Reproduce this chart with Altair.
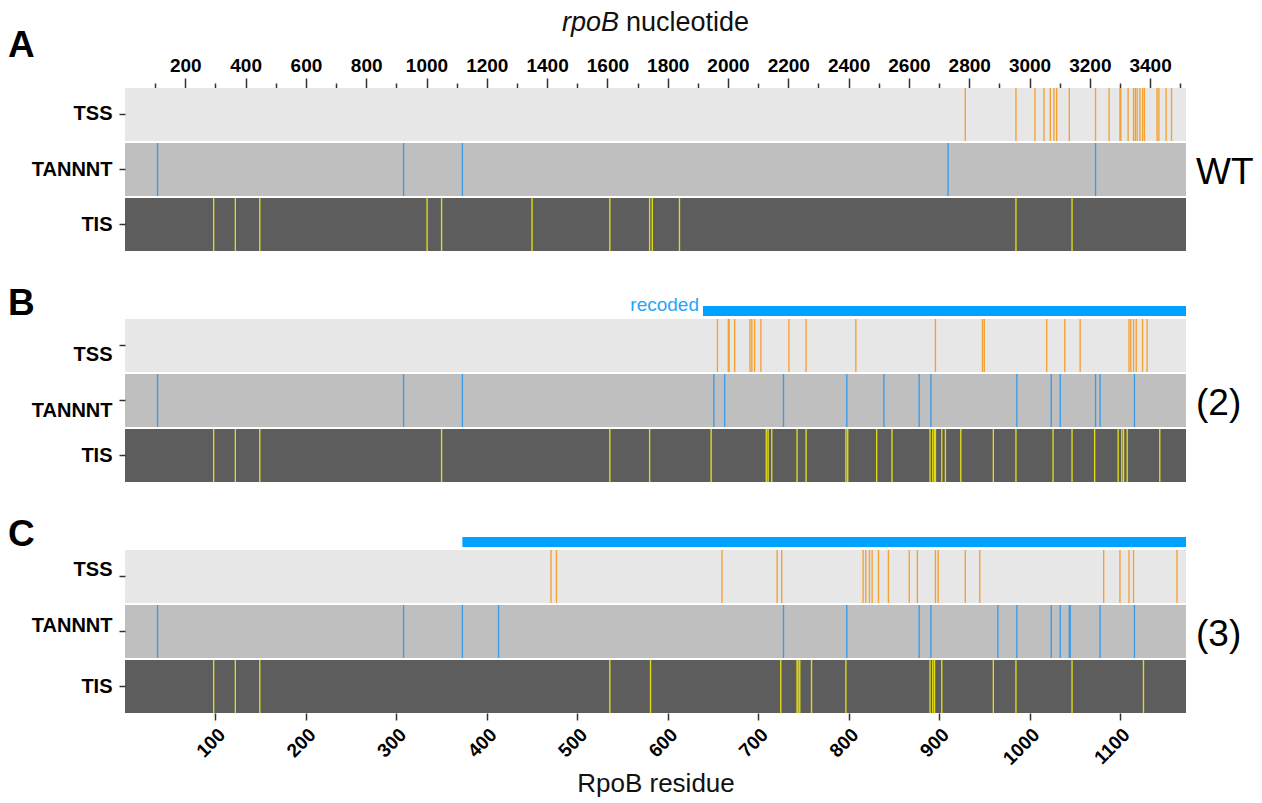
import altair as alt
import pandas as pd

# ---------------- data ----------------
TRACKS = ["TSS", "TANNNT", "TIS"]
GENE_LEN = 1173  # RpoB residues (3519 nt)

NT_TICKS = list(range(100, 3600, 100))
RES_TICKS = [100, 200, 300, 400, 500, 600, 700, 800, 900, 1000, 1100]

A_TSS = [929, 985, 1006, 1016, 1023, 1027, 1030, 1044, 1073, 1088, 1100, 1101,
         1109, 1115, 1117, 1119, 1122, 1125, 1127, 1141, 1143, 1151, 1157]
A_TANNNT = [36, 308, 373, 910, 1073]
A_TIS = [98, 122, 149, 334, 350, 450, 536, 580, 583, 613, 985, 1047]

B_TSS = [655, 667, 668, 674, 691, 693, 696, 703, 734, 753, 808, 896, 948, 950,
         1019, 1039, 1056, 1110, 1112, 1115, 1118, 1125, 1130]
B_TANNNT = [36, 308, 373, 651, 663, 728, 798, 839, 878, 891, 986, 1024, 1034,
            1073, 1078, 1116]
B_TIS = [98, 122, 149, 350, 536, 580, 648, 709, 711, 715, 743, 753, 797, 799,
         831, 848, 890, 893, 895, 896, 903, 907, 924, 960, 985, 1026, 1047,
         1072, 1098, 1102, 1104, 1108, 1144]

C_TSS = [471, 477, 660, 721, 726, 816, 819, 823, 826, 833, 844, 867, 876, 896,
         899, 929, 945, 1082, 1100, 1110, 1115, 1163]
C_TANNNT = [36, 308, 373, 413, 728, 798, 878, 891, 965, 986, 1024, 1034, 1044,
            1045, 1078, 1116]
C_TIS = [98, 122, 149, 536, 581, 725, 743, 744, 746, 759, 797, 890, 893, 895,
         903, 960, 985, 1047, 1126]

B_RECODED_START = 639
C_RECODED_START = 373

# ---------------- style ----------------
FONT = "Liberation Sans"
W, H = 1061, 163
BG_COLORS = ["#e7e7e7", "#bfbfbf", "#5d5d5d"]
EV_COLORS = ["#f5a033", "#3b9be8", "#e2dc14"]
BAR_COLOR = "#00a2ff"

xscale = alt.Scale(domain=[0, GENE_LEN], nice=False, zero=False)
yscale = alt.Scale(domain=TRACKS, paddingInner=0.037, paddingOuter=0)


def make_yaxis(off_top):
    return alt.Axis(
        title=None, domain=False, labelFont=FONT, labelFontSize=20,
        labelFontWeight="bold", labelColor="black", tickSize=6,
        tickColor="#333", tickWidth=1.5, labelPadding=7,
        labelOffset={"condition": {"test": "datum.value === 'TIS'", "value": 0},
                     "value": off_top})


def make_xaxis(kind):
    if kind == "top":
        return alt.Axis(
            orient="top", values=[n / 3 for n in NT_TICKS], title=None,
            labelExpr="round(datum.value*3) % 200 === 0 ? format(round(datum.value*3), 'd') : ''",
            tickSize={"condition": {"test": "round(datum.value*3) % 200 === 0", "value": 10}, "value": 5},
            labelFont=FONT, labelFontSize=19, labelFontWeight="bold",
            labelColor="black", tickColor="#333", tickWidth=1.5, domain=False,
            labelPadding=3, labelOverlap=False, labelFlush=False, grid=False)
    if kind == "bottom":
        return alt.Axis(
            orient="bottom", values=RES_TICKS, title="RpoB residue", format="d",
            labelAngle=-45, labelAlign="right", labelBaseline="top",
            labelFont=FONT, labelFontSize=19, labelFontWeight="bold",
            labelColor="black", tickSize=7, tickColor="#333", tickWidth=1.5,
            domain=False, labelPadding=5, labelOverlap=False, labelFlush=False,
            titleFont=FONT, titleFontSize=26, titleFontWeight="normal",
            titleColor="#111", titlePadding=2, grid=False)
    return None


def panel(tss, tann, tis, letter, letter_y, right_label, axis_kind, label_off,
          recoded_start=None, recoded_text=None):
    xaxis = make_xaxis(axis_kind)
    ev = pd.DataFrame([{"track": t, "pos": p}
                       for t, lst in zip(TRACKS, [tss, tann, tis]) for p in lst])
    bg = pd.DataFrame({"track": TRACKS, "start": [0] * 3, "end": [GENE_LEN] * 3})

    y_enc = alt.Y("track:N", scale=yscale, axis=make_yaxis(label_off))

    back = alt.Chart(bg).mark_rect().encode(
        x=alt.X("start:Q", scale=xscale, axis=xaxis),
        x2="end:Q",
        y=y_enc,
        color=alt.Color("track:N", scale=alt.Scale(domain=TRACKS, range=BG_COLORS), legend=None),
    )
    events = alt.Chart(ev).transform_calculate(
        p0="datum.pos - 0.75", p1="datum.pos + 0.75"
    ).mark_rect().encode(
        x=alt.X("p0:Q", scale=xscale, axis=xaxis),
        x2="p1:Q",
        y=y_enc,
        color=alt.Color("track:N", scale=alt.Scale(domain=TRACKS, range=EV_COLORS), legend=None),
    )
    layers = [back, events]

    if recoded_start is not None:
        rec = pd.DataFrame({"start": [recoded_start], "end": [GENE_LEN], "t": [recoded_text or ""]})
        layers.append(alt.Chart(rec).mark_rect(color=BAR_COLOR).encode(
            x=alt.X("start:Q", scale=xscale, axis=xaxis), x2="end:Q",
            y=alt.value(-13), y2=alt.value(-3)))
        if recoded_text:
            layers.append(alt.Chart(rec).mark_text(
                align="right", baseline="middle", dx=-4, font=FONT, fontSize=19,
                color="#2aa5f5").encode(
                x=alt.X("start:Q", scale=xscale, axis=xaxis),
                y=alt.value(-14), text="t:N"))

    lt = pd.DataFrame({"t": [letter]})
    layers.append(alt.Chart(lt).mark_text(
        align="left", baseline="middle", font=FONT, fontSize=37,
        fontWeight="bold", color="black").encode(
        x=alt.value(-117), y=alt.value(letter_y), text="t:N"))

    rl = pd.DataFrame({"t": [right_label]})
    layers.append(alt.Chart(rl).mark_text(
        align="left", baseline="middle", font=FONT, fontSize=37,
        color="black").encode(
        x=alt.value(W + 10), y=alt.value(H / 2 + 3), text="t:N"))

    if axis_kind == "top":
        t1 = pd.DataFrame({"t": ["rpoB"]})
        t2 = pd.DataFrame({"t": ["nucleotide"]})
        layers.append(alt.Chart(t1).mark_text(
            align="right", baseline="middle", font=FONT, fontSize=27,
            fontStyle="italic", color="#111").encode(
            x=alt.value(494), y=alt.value(-65), text="t:N"))
        layers.append(alt.Chart(t2).mark_text(
            align="left", baseline="middle", font=FONT, fontSize=27,
            color="#111").encode(
            x=alt.value(501), y=alt.value(-65), text="t:N"))

    return alt.layer(*layers).resolve_scale(color="independent").properties(width=W, height=H)


pa = panel(A_TSS, A_TANNNT, A_TIS, "A", -42, "WT", "top", 0)
pb = panel(B_TSS, B_TANNNT, B_TIS, "B", -15, "(2)", "none", 10,
           recoded_start=B_RECODED_START, recoded_text="recoded")
pc = panel(C_TSS, C_TANNNT, C_TIS, "C", -15, "(3)", "bottom", -6,
           recoded_start=C_RECODED_START)

chart = alt.vconcat(pa, pb, pc, spacing=68, bounds="flush").properties(
    padding={"left": 0, "top": 1, "right": 0, "bottom": 0}
).configure_view(stroke=None)

chart.save("out.html", embed_options={"renderer": "svg", "actions": False})
